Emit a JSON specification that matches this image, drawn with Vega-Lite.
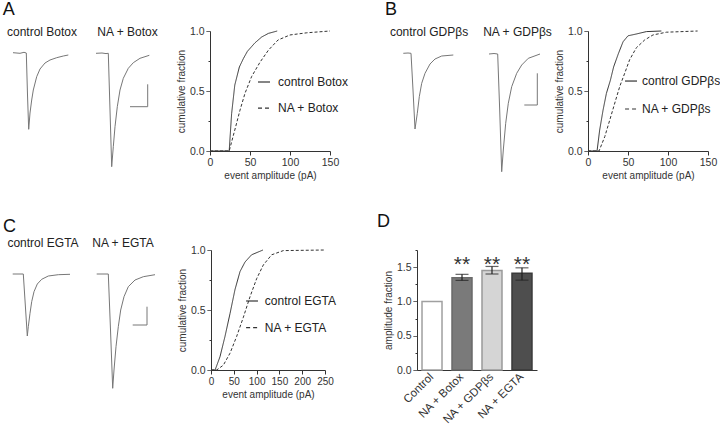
{
  "$schema": "https://vega.github.io/schema/vega-lite/v6.json",
  "background": "white",
  "padding": 0,
  "config": {
    "font": "Liberation Sans",
    "view": {"stroke": null},
    "axis": {"domainColor": "#333", "tickColor": "#333", "labelColor": "#333", "titleColor": "#333", "labelFontSize": 10.5, "titleFontSize": 10, "titleFontWeight": "normal", "grid": false, "tickSize": 4, "labelPadding": 2, "titlePadding": 3, "domainWidth": 1, "tickWidth": 1, "labelOverlap": false, "labelFlush": false}
  },
  "vconcat": [
    {
      "hconcat": [
        {
          "width": 210, "height": 120,
          "layer": [
            {
              "data": {"values": [
                {"s": "control", "k": 0, "t": 13, "i": 0.3}, {"s": "control", "k": 1, "t": 20, "i": -0.3}, {"s": "control", "k": 2, "t": 24, "i": 0.7}, {"s": "control", "k": 3, "t": 26.3, "i": 0}, {"s": "control", "k": 4, "t": 27.5, "i": -42}, {"s": "control", "k": 5, "t": 28.7, "i": -76.3}, {"s": "control", "k": 6, "t": 30, "i": -60}, {"s": "control", "k": 7, "t": 31.7, "i": -47}, {"s": "control", "k": 8, "t": 33.3, "i": -37}, {"s": "control", "k": 9, "t": 36.7, "i": -23.7}, {"s": "control", "k": 10, "t": 40, "i": -16}, {"s": "control", "k": 11, "t": 45, "i": -10}, {"s": "control", "k": 12, "t": 50, "i": -7}, {"s": "control", "k": 13, "t": 56.7, "i": -4.7}, {"s": "control", "k": 14, "t": 63.3, "i": -3}, {"s": "control", "k": 15, "t": 68.3, "i": -2},
                {"s": "NA", "k": 0, "t": 96, "i": -0.3}, {"s": "NA", "k": 1, "t": 102, "i": 0}, {"s": "NA", "k": 2, "t": 106, "i": -0.6}, {"s": "NA", "k": 3, "t": 108.3, "i": -0.3}, {"s": "NA", "k": 4, "t": 110, "i": -57}, {"s": "NA", "k": 5, "t": 111.7, "i": -113.7}, {"s": "NA", "k": 6, "t": 113.3, "i": -93.7}, {"s": "NA", "k": 7, "t": 115, "i": -73.7}, {"s": "NA", "k": 8, "t": 117.3, "i": -53.7}, {"s": "NA", "k": 9, "t": 120, "i": -37}, {"s": "NA", "k": 10, "t": 123.3, "i": -25.3}, {"s": "NA", "k": 11, "t": 128.3, "i": -15.3}, {"s": "NA", "k": 12, "t": 133.3, "i": -9.7}, {"s": "NA", "k": 13, "t": 140, "i": -5.3}, {"s": "NA", "k": 14, "t": 149.3, "i": -2.3},
                {"s": "scale bar", "k": 0, "t": 147.7, "i": -31.3}, {"s": "scale bar", "k": 1, "t": 147.7, "i": -53.7}, {"s": "scale bar", "k": 2, "t": 130, "i": -53.7}
              ]},
              "mark": {"type": "line", "color": "#777", "strokeWidth": 1},
              "encoding": {
                "x": {"field": "t", "type": "quantitative", "scale": {"domain": [0, 210], "nice": false, "zero": false}, "axis": null},
                "y": {"field": "i", "type": "quantitative", "scale": {"domain": [-98, 22], "nice": false, "zero": false}, "axis": null},
                "detail": {"field": "s"},
                "order": {"field": "k"}
              }
            },
            {
              "data": {"values": [{"label": "control Botox", "t": 42, "i": 21}, {"label": "NA + Botox", "t": 127.5, "i": 21}]},
              "mark": {"type": "text", "fontSize": 12, "color": "#222", "baseline": "middle"},
              "encoding": {"x": {"field": "t", "type": "quantitative"}, "y": {"field": "i", "type": "quantitative"}, "text": {"field": "label"}}
            },
            {
              "data": {"values": [{"label": "A", "t": 2.7, "i": 43.5}]},
              "mark": {"type": "text", "fontSize": 18, "color": "#111", "align": "left", "baseline": "middle"},
              "encoding": {"x": {"field": "t", "type": "quantitative"}, "y": {"field": "i", "type": "quantitative"}, "text": {"field": "label"}}
            }
          ]
        },
        {
          "width": 120, "height": 120,
          "resolve": {"axis": {"x": "independent", "y": "independent"}},
          "layer": [
            {
              "data": {"values": [
                {"cond": "control Botox", "amp": 0, "frac": 0}, {"cond": "control Botox", "amp": 24, "frac": 0}, {"cond": "control Botox", "amp": 27, "frac": 0.31}, {"cond": "control Botox", "amp": 31, "frac": 0.55}, {"cond": "control Botox", "amp": 36.7, "frac": 0.7}, {"cond": "control Botox", "amp": 41.7, "frac": 0.77}, {"cond": "control Botox", "amp": 46.7, "frac": 0.83}, {"cond": "control Botox", "amp": 56, "frac": 0.9}, {"cond": "control Botox", "amp": 64.6, "frac": 0.95}, {"cond": "control Botox", "amp": 73, "frac": 0.98}, {"cond": "control Botox", "amp": 84, "frac": 1.0},
                {"cond": "NA + Botox", "amp": 0, "frac": 0}, {"cond": "NA + Botox", "amp": 24, "frac": 0}, {"cond": "NA + Botox", "amp": 31, "frac": 0.175}, {"cond": "NA + Botox", "amp": 37.5, "frac": 0.34}, {"cond": "NA + Botox", "amp": 43.7, "frac": 0.48}, {"cond": "NA + Botox", "amp": 52, "frac": 0.62}, {"cond": "NA + Botox", "amp": 62.5, "frac": 0.74}, {"cond": "NA + Botox", "amp": 73, "frac": 0.84}, {"cond": "NA + Botox", "amp": 85, "frac": 0.925}, {"cond": "NA + Botox", "amp": 100, "frac": 0.967}, {"cond": "NA + Botox", "amp": 121, "frac": 0.985}, {"cond": "NA + Botox", "amp": 150, "frac": 1.0}
              ]},
              "mark": {"type": "line", "color": "#333", "strokeWidth": 1},
              "encoding": {
                "x": {"field": "amp", "type": "quantitative", "scale": {"domain": [0, 150], "nice": false}, "axis": {"values": [0, 50, 100, 150], "title": "event amplitude (pA)", "labelOverlap": false, "labelFlush": false}},
                "y": {"field": "frac", "type": "quantitative", "scale": {"domain": [0, 1], "nice": false}, "axis": {"values": [0, 0.25, 0.5, 0.75, 1], "title": "cumulative fraction", "labelOverlap": false, "labelFlush": false, "labelExpr": "(datum.value * 2) % 1 == 0 ? format(datum.value, '.1f') : ''", "tickDash": {"condition": {"test": "(datum.value * 2) % 1 != 0", "value": [2, 10]}, "value": [1, 0]}}},
                "strokeDash": {"field": "cond", "type": "nominal", "scale": {"domain": ["control Botox", "NA + Botox"], "range": [[1, 0], [3, 2]]}, "legend": null}
              }
            },
            {"data": {"values": [{}]}, "mark": {"type": "rule", "color": "#333", "strokeWidth": 1.2}, "encoding": {"x": {"datum": 60, "axis": null}, "x2": {"datum": 75}, "y": {"datum": 0.575, "axis": null}}},
            {"data": {"values": [{}]}, "mark": {"type": "rule", "color": "#333", "strokeWidth": 1.2, "strokeDash": [4, 3]}, "encoding": {"x": {"datum": 60, "axis": null}, "x2": {"datum": 75}, "y": {"datum": 0.358, "axis": null}}},
            {"data": {"values": [{}]}, "mark": {"type": "text", "fontSize": 12, "color": "#222", "align": "left", "baseline": "middle"}, "encoding": {"x": {"datum": 85, "axis": null}, "y": {"datum": 0.575, "axis": null}, "text": {"value": "control Botox"}}},
            {"data": {"values": [{}]}, "mark": {"type": "text", "fontSize": 12, "color": "#222", "align": "left", "baseline": "middle"}, "encoding": {"x": {"datum": 85, "axis": null}, "y": {"datum": 0.358, "axis": null}, "text": {"value": "NA + Botox"}}}
          ]
        },
        {
          "width": 258, "height": 120,
          "layer": [
            {
              "data": {"values": [
                {"s": "control", "k": 0, "t": 73.3, "i": -0.3}, {"s": "control", "k": 1, "t": 78, "i": 0}, {"s": "control", "k": 2, "t": 81, "i": -0.3}, {"s": "control", "k": 3, "t": 83, "i": -37}, {"s": "control", "k": 4, "t": 85, "i": -76}, {"s": "control", "k": 5, "t": 87.3, "i": -60.3}, {"s": "control", "k": 6, "t": 89.3, "i": -43.7}, {"s": "control", "k": 7, "t": 91.7, "i": -30.3}, {"s": "control", "k": 8, "t": 95, "i": -20.3}, {"s": "control", "k": 9, "t": 100, "i": -11}, {"s": "control", "k": 10, "t": 105, "i": -6}, {"s": "control", "k": 11, "t": 111.7, "i": -3}, {"s": "control", "k": 12, "t": 123.3, "i": -2},
                {"s": "NA", "k": 0, "t": 159, "i": -1}, {"s": "NA", "k": 1, "t": 164, "i": -0.5}, {"s": "NA", "k": 2, "t": 167.7, "i": -1}, {"s": "NA", "k": 3, "t": 169.7, "i": -57}, {"s": "NA", "k": 4, "t": 171.7, "i": -118.7}, {"s": "NA", "k": 5, "t": 173.3, "i": -97}, {"s": "NA", "k": 6, "t": 175.7, "i": -70.3}, {"s": "NA", "k": 7, "t": 178.3, "i": -50.3}, {"s": "NA", "k": 8, "t": 181.7, "i": -33.7}, {"s": "NA", "k": 9, "t": 186.7, "i": -20.3}, {"s": "NA", "k": 10, "t": 191.7, "i": -12}, {"s": "NA", "k": 11, "t": 198.3, "i": -5.3}, {"s": "NA", "k": 12, "t": 210, "i": -1},
                {"s": "scale bar", "k": 0, "t": 207.3, "i": -20.3}, {"s": "scale bar", "k": 1, "t": 207.3, "i": -52}, {"s": "scale bar", "k": 2, "t": 194.3, "i": -52}
              ]},
              "mark": {"type": "line", "color": "#777", "strokeWidth": 1},
              "encoding": {
                "x": {"field": "t", "type": "quantitative", "scale": {"domain": [0, 258], "nice": false, "zero": false}, "axis": null},
                "y": {"field": "i", "type": "quantitative", "scale": {"domain": [-98, 22], "nice": false, "zero": false}, "axis": null},
                "detail": {"field": "s"},
                "order": {"field": "k"}
              }
            },
            {
              "data": {"values": [{"label": "control GDPβs", "t": 99, "i": 21}, {"label": "NA + GDPβs", "t": 187.5, "i": 21}]},
              "mark": {"type": "text", "fontSize": 12, "color": "#222", "baseline": "middle"},
              "encoding": {"x": {"field": "t", "type": "quantitative"}, "y": {"field": "i", "type": "quantitative"}, "text": {"field": "label"}}
            },
            {
              "data": {"values": [{"label": "B", "t": 55, "i": 43.5}]},
              "mark": {"type": "text", "fontSize": 18, "color": "#111", "align": "left", "baseline": "middle"},
              "encoding": {"x": {"field": "t", "type": "quantitative"}, "y": {"field": "i", "type": "quantitative"}, "text": {"field": "label"}}
            }
          ]
        },
        {
          "width": 120, "height": 120,
          "resolve": {"axis": {"x": "independent", "y": "independent"}},
          "layer": [
            {
              "data": {"values": [
                {"cond": "control GDPβs", "amp": 0, "frac": 0}, {"cond": "control GDPβs", "amp": 11.3, "frac": 0}, {"cond": "control GDPβs", "amp": 14.6, "frac": 0.175}, {"cond": "control GDPβs", "amp": 18.8, "frac": 0.34}, {"cond": "control GDPβs", "amp": 23, "frac": 0.48}, {"cond": "control GDPβs", "amp": 28, "frac": 0.59}, {"cond": "control GDPβs", "amp": 32, "frac": 0.7}, {"cond": "control GDPβs", "amp": 37.9, "frac": 0.81}, {"cond": "control GDPβs", "amp": 43.8, "frac": 0.91}, {"cond": "control GDPβs", "amp": 50, "frac": 0.96}, {"cond": "control GDPβs", "amp": 60.4, "frac": 0.975}, {"cond": "control GDPβs", "amp": 73, "frac": 0.995}, {"cond": "control GDPβs", "amp": 91.7, "frac": 1.0},
                {"cond": "NA + GDPβs", "amp": 0, "frac": 0}, {"cond": "NA + GDPβs", "amp": 13.8, "frac": 0}, {"cond": "NA + GDPβs", "amp": 21, "frac": 0.12}, {"cond": "NA + GDPβs", "amp": 27.3, "frac": 0.26}, {"cond": "NA + GDPβs", "amp": 33.5, "frac": 0.4}, {"cond": "NA + GDPβs", "amp": 39.8, "frac": 0.54}, {"cond": "NA + GDPβs", "amp": 46, "frac": 0.65}, {"cond": "NA + GDPβs", "amp": 52, "frac": 0.76}, {"cond": "NA + GDPβs", "amp": 60.4, "frac": 0.86}, {"cond": "NA + GDPβs", "amp": 70.8, "frac": 0.925}, {"cond": "NA + GDPβs", "amp": 81.2, "frac": 0.967}, {"cond": "NA + GDPβs", "amp": 97.9, "frac": 0.99}, {"cond": "NA + GDPβs", "amp": 137, "frac": 1.0}
              ]},
              "mark": {"type": "line", "color": "#333", "strokeWidth": 1},
              "encoding": {
                "x": {"field": "amp", "type": "quantitative", "scale": {"domain": [0, 150], "nice": false}, "axis": {"values": [0, 50, 100, 150], "title": "event amplitude (pA)", "labelOverlap": false, "labelFlush": false}},
                "y": {"field": "frac", "type": "quantitative", "scale": {"domain": [0, 1], "nice": false}, "axis": {"values": [0, 0.25, 0.5, 0.75, 1], "title": "cumulative fraction", "labelOverlap": false, "labelFlush": false, "labelExpr": "(datum.value * 2) % 1 == 0 ? format(datum.value, '.1f') : ''", "tickDash": {"condition": {"test": "(datum.value * 2) % 1 != 0", "value": [2, 10]}, "value": [1, 0]}}},
                "strokeDash": {"field": "cond", "type": "nominal", "scale": {"domain": ["control GDPβs", "NA + GDPβs"], "range": [[1, 0], [3, 2]]}, "legend": null}
              }
            },
            {"data": {"values": [{}]}, "mark": {"type": "rule", "color": "#333", "strokeWidth": 1.2}, "encoding": {"x": {"datum": 46.3, "axis": null}, "x2": {"datum": 61.3}, "y": {"datum": 0.583, "axis": null}}},
            {"data": {"values": [{}]}, "mark": {"type": "rule", "color": "#333", "strokeWidth": 1.2, "strokeDash": [4, 3]}, "encoding": {"x": {"datum": 46.3, "axis": null}, "x2": {"datum": 61.3}, "y": {"datum": 0.35, "axis": null}}},
            {"data": {"values": [{}]}, "mark": {"type": "text", "fontSize": 12, "color": "#222", "align": "left", "baseline": "middle"}, "encoding": {"x": {"datum": 67.5, "axis": null}, "y": {"datum": 0.583, "axis": null}, "text": {"value": "control GDPβs"}}},
            {"data": {"values": [{}]}, "mark": {"type": "text", "fontSize": 12, "color": "#222", "align": "left", "baseline": "middle"}, "encoding": {"x": {"datum": 67.5, "axis": null}, "y": {"datum": 0.35, "axis": null}, "text": {"value": "NA + GDPβs"}}}
          ]
        }
      ],
      "spacing": 0,
      "bounds": "flush"
    },
    {
      "hconcat": [
        {
          "width": 119, "height": 120,
          "layer": [
            {
              "data": {"values": [
                {"s": "control", "k": 0, "t": 12.7, "i": 0}, {"s": "control", "k": 1, "t": 18, "i": 0}, {"s": "control", "k": 2, "t": 23.3, "i": 0}, {"s": "control", "k": 3, "t": 25.3, "i": -31}, {"s": "control", "k": 4, "t": 27.3, "i": -62}, {"s": "control", "k": 5, "t": 28.3, "i": -52.7}, {"s": "control", "k": 6, "t": 30, "i": -39.3}, {"s": "control", "k": 7, "t": 31.7, "i": -27.7}, {"s": "control", "k": 8, "t": 34, "i": -17.7}, {"s": "control", "k": 9, "t": 37.3, "i": -10}, {"s": "control", "k": 10, "t": 41.7, "i": -5.3}, {"s": "control", "k": 11, "t": 48.3, "i": -2}, {"s": "control", "k": 12, "t": 58.3, "i": -0.7}, {"s": "control", "k": 13, "t": 70, "i": -0.3},
                {"s": "NA", "k": 0, "t": 96.7, "i": 0}, {"s": "NA", "k": 1, "t": 103, "i": 0}, {"s": "NA", "k": 2, "t": 108.3, "i": 0}, {"s": "NA", "k": 3, "t": 110.5, "i": -56}, {"s": "NA", "k": 4, "t": 112.7, "i": -114.3}, {"s": "NA", "k": 5, "t": 114, "i": -96}, {"s": "NA", "k": 6, "t": 116, "i": -72.7}, {"s": "NA", "k": 7, "t": 118.3, "i": -52.7}, {"s": "NA", "k": 8, "t": 120.7, "i": -36}, {"s": "NA", "k": 9, "t": 124, "i": -22.7}, {"s": "NA", "k": 10, "t": 128.3, "i": -12.7}, {"s": "NA", "k": 11, "t": 135, "i": -6}, {"s": "NA", "k": 12, "t": 143.3, "i": -2.7}, {"s": "NA", "k": 13, "t": 155, "i": -0.7},
                {"s": "scale bar", "k": 0, "t": 147, "i": -32.7}, {"s": "scale bar", "k": 1, "t": 147, "i": -51}, {"s": "scale bar", "k": 2, "t": 132.7, "i": -51}
              ]},
              "mark": {"type": "line", "color": "#777", "strokeWidth": 1},
              "encoding": {
                "x": {"field": "t", "type": "quantitative", "scale": {"domain": [0, 119], "nice": false, "zero": false}, "axis": null},
                "y": {"field": "i", "type": "quantitative", "scale": {"domain": [-96, 24], "nice": false, "zero": false}, "axis": null},
                "detail": {"field": "s"},
                "order": {"field": "k"}
              }
            },
            {
              "data": {"values": [{"label": "control EGTA", "t": 43, "i": 31}, {"label": "NA + EGTA", "t": 123, "i": 31}]},
              "mark": {"type": "text", "fontSize": 12, "color": "#222", "baseline": "middle"},
              "encoding": {"x": {"field": "t", "type": "quantitative"}, "y": {"field": "i", "type": "quantitative"}, "text": {"field": "label"}}
            },
            {
              "data": {"values": [{"label": "C", "t": 3, "i": 47}]},
              "mark": {"type": "text", "fontSize": 18, "color": "#111", "align": "left", "baseline": "middle"},
              "encoding": {"x": {"field": "t", "type": "quantitative"}, "y": {"field": "i", "type": "quantitative"}, "text": {"field": "label"}}
            }
          ]
        },
        {
          "width": 114, "height": 120,
          "resolve": {"axis": {"x": "independent", "y": "independent"}},
          "layer": [
            {
              "data": {"values": [
                {"cond": "control EGTA", "amp": 0, "frac": 0}, {"cond": "control EGTA", "amp": 9, "frac": 0}, {"cond": "control EGTA", "amp": 19.7, "frac": 0.11}, {"cond": "control EGTA", "amp": 30.7, "frac": 0.28}, {"cond": "control EGTA", "amp": 41.7, "frac": 0.47}, {"cond": "control EGTA", "amp": 52.6, "frac": 0.67}, {"cond": "control EGTA", "amp": 63.6, "frac": 0.82}, {"cond": "control EGTA", "amp": 74.6, "frac": 0.9}, {"cond": "control EGTA", "amp": 89, "frac": 0.96}, {"cond": "control EGTA", "amp": 114, "frac": 1.0},
                {"cond": "NA + EGTA", "amp": 0, "frac": 0}, {"cond": "NA + EGTA", "amp": 12.5, "frac": 0}, {"cond": "NA + EGTA", "amp": 27, "frac": 0.04}, {"cond": "NA + EGTA", "amp": 41.7, "frac": 0.14}, {"cond": "NA + EGTA", "amp": 56.3, "frac": 0.28}, {"cond": "NA + EGTA", "amp": 71, "frac": 0.44}, {"cond": "NA + EGTA", "amp": 85.5, "frac": 0.61}, {"cond": "NA + EGTA", "amp": 100, "frac": 0.76}, {"cond": "NA + EGTA", "amp": 114.7, "frac": 0.875}, {"cond": "NA + EGTA", "amp": 133, "frac": 0.96}, {"cond": "NA + EGTA", "amp": 158.6, "frac": 0.995}, {"cond": "NA + EGTA", "amp": 250, "frac": 1.0}
              ]},
              "mark": {"type": "line", "color": "#333", "strokeWidth": 1},
              "encoding": {
                "x": {"field": "amp", "type": "quantitative", "scale": {"domain": [0, 250], "nice": false}, "axis": {"values": [0, 50, 100, 150, 200, 250], "title": "event amplitude (pA)", "labelOverlap": false, "labelFlush": false, "labelFontSize": 10}},
                "y": {"field": "frac", "type": "quantitative", "scale": {"domain": [0, 1], "nice": false}, "axis": {"values": [0, 0.25, 0.5, 0.75, 1], "title": "cumulative fraction", "labelOverlap": false, "labelFlush": false, "labelExpr": "(datum.value * 2) % 1 == 0 ? format(datum.value, '.1f') : ''", "tickDash": {"condition": {"test": "(datum.value * 2) % 1 != 0", "value": [2, 10]}, "value": [1, 0]}}},
                "strokeDash": {"field": "cond", "type": "nominal", "scale": {"domain": ["control EGTA", "NA + EGTA"], "range": [[1, 0], [3, 2]]}, "legend": null}
              }
            },
            {"data": {"values": [{}]}, "mark": {"type": "rule", "color": "#333", "strokeWidth": 1.2}, "encoding": {"x": {"datum": 77, "axis": null}, "x2": {"datum": 103}, "y": {"datum": 0.575, "axis": null}}},
            {"data": {"values": [{}]}, "mark": {"type": "rule", "color": "#333", "strokeWidth": 1.2, "strokeDash": [4, 3]}, "encoding": {"x": {"datum": 77, "axis": null}, "x2": {"datum": 103}, "y": {"datum": 0.353, "axis": null}}},
            {"data": {"values": [{}]}, "mark": {"type": "text", "fontSize": 12, "color": "#222", "align": "left", "baseline": "middle"}, "encoding": {"x": {"datum": 118, "axis": null}, "y": {"datum": 0.575, "axis": null}, "text": {"value": "control EGTA"}}},
            {"data": {"values": [{}]}, "mark": {"type": "text", "fontSize": 12, "color": "#222", "align": "left", "baseline": "middle"}, "encoding": {"x": {"datum": 118, "axis": null}, "y": {"datum": 0.353, "axis": null}, "text": {"value": "NA + EGTA"}}}
          ]
        },
        {
          "width": 120, "height": 120,
          "title": {"text": "D", "anchor": "start", "frame": "group", "fontSize": 18, "fontWeight": "normal", "color": "#111", "dx": -40, "offset": 14},
          "resolve": {"axis": {"x": "independent", "y": "independent"}},
          "data": {"values": [
            {"cond": "Control", "v": 1.0, "lo": 1.0, "hi": 1.0, "sig": ""},
            {"cond": "NA + Botox", "v": 1.345, "lo": 1.307, "hi": 1.395, "sig": "**"},
            {"cond": "NA + GDPβs", "v": 1.45, "lo": 1.4, "hi": 1.51, "sig": "**"},
            {"cond": "NA + EGTA", "v": 1.41, "lo": 1.31, "hi": 1.49, "sig": "**"}
          ]},
          "layer": [
            {
              "mark": {"type": "bar", "strokeWidth": 1.5},
              "encoding": {
                "x": {"field": "cond", "type": "nominal", "sort": null, "scale": {"paddingInner": 0.333, "paddingOuter": 0.167}, "axis": {"title": null, "labelAngle": -45, "labelAlign": "right", "labelBaseline": "middle", "ticks": false, "labelPadding": 5, "labelFontSize": 11.5, "labelOverlap": false}},
                "y": {"field": "v", "type": "quantitative", "scale": {"domain": [0, 1.75], "nice": false}, "axis": {"title": "amplitude fraction", "values": [0, 0.25, 0.5, 0.75, 1, 1.25, 1.5, 1.75], "labelOverlap": false, "labelFlush": false, "labelExpr": "(datum.value * 2) % 1 == 0 ? format(datum.value, '.1f') : ''", "tickDash": {"condition": {"test": "(datum.value * 2) % 1 != 0", "value": [2, 10]}, "value": [1, 0]}}},
                "fill": {"field": "cond", "type": "nominal", "scale": {"domain": ["Control", "NA + Botox", "NA + GDPβs", "NA + EGTA"], "range": ["#ffffff", "#7a7a7a", "#d5d5d5", "#4e4e4e"]}, "legend": null},
                "stroke": {"field": "cond", "type": "nominal", "scale": {"domain": ["Control", "NA + Botox", "NA + GDPβs", "NA + EGTA"], "range": ["#a0a0a0", "#6a6a6a", "#9a9a9a", "#3a3a3a"]}, "legend": null}
              }
            },
            {
              "transform": [{"filter": "datum.hi > datum.lo"}],
              "mark": {"type": "rule", "color": "#222", "strokeWidth": 1.2},
              "encoding": {"x": {"field": "cond", "type": "nominal", "sort": null, "axis": null}, "y": {"field": "lo", "type": "quantitative", "axis": null}, "y2": {"field": "hi"}}
            },
            {
              "transform": [{"filter": "datum.hi > datum.lo"}],
              "mark": {"type": "tick", "color": "#222", "size": 13, "thickness": 1.2},
              "encoding": {"x": {"field": "cond", "type": "nominal", "sort": null, "axis": null}, "y": {"field": "lo", "type": "quantitative", "axis": null}}
            },
            {
              "transform": [{"filter": "datum.hi > datum.lo"}],
              "mark": {"type": "tick", "color": "#222", "size": 13, "thickness": 1.2},
              "encoding": {"x": {"field": "cond", "type": "nominal", "sort": null, "axis": null}, "y": {"field": "hi", "type": "quantitative", "axis": null}}
            },
            {
              "transform": [{"filter": "datum.sig != ''"}],
              "mark": {"type": "text", "fontSize": 21, "color": "#333", "baseline": "middle"},
              "encoding": {"x": {"field": "cond", "type": "nominal", "sort": null, "axis": null}, "y": {"datum": 1.53, "axis": null}, "text": {"field": "sig"}}
            }
          ]
        }
      ],
      "spacing": 92,
      "bounds": "flush"
    }
  ],
  "spacing": 219,
  "bounds": "flush"
}
